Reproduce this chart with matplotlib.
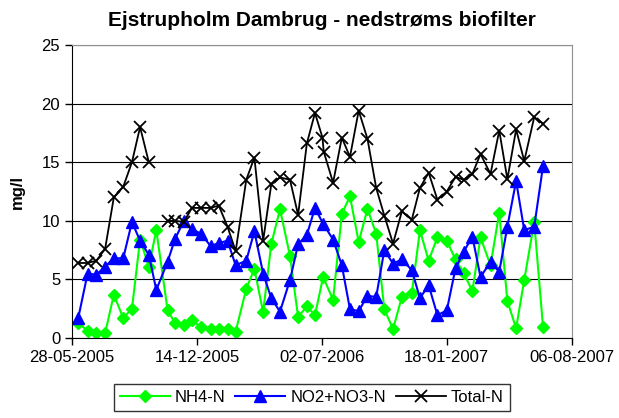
import numpy as np
import pandas as pd
import matplotlib
matplotlib.use("Agg")
import matplotlib.pyplot as plt
import matplotlib.dates as mdates

plt.rcParams['font.family'] = ['Liberation Sans', 'DejaVu Sans']

# sampling dates shared by NH4-N and NO2+NO3-N
dates = ["2005-06-07", "2005-06-22", "2005-07-06", "2005-07-20", "2005-08-03", "2005-08-18",
         "2005-09-01", "2005-09-14", "2005-09-28", "2005-10-10", "2005-10-28", "2005-11-09",
         "2005-11-23", "2005-12-06", "2005-12-20", "2006-01-05", "2006-01-18", "2006-02-01",
         "2006-02-14", "2006-03-03", "2006-03-16", "2006-03-30", "2006-04-12", "2006-04-26",
         "2006-05-12", "2006-05-25", "2006-06-08", "2006-06-21", "2006-07-04", "2006-07-20",
         "2006-08-03", "2006-08-16", "2006-08-30", "2006-09-13", "2006-09-27", "2006-10-10",
         "2006-10-24", "2006-11-07", "2006-11-23", "2006-12-06", "2006-12-20", "2007-01-03",
         "2007-01-18", "2007-02-01", "2007-02-14", "2007-02-28", "2007-03-13", "2007-03-29",
         "2007-04-12", "2007-04-25", "2007-05-09", "2007-05-22", "2007-06-07", "2007-06-21"]

nh4 = [1.3, 0.6, 0.45, 0.4, 3.7, 1.7, 2.5, 8.4, 6.1, 9.2, 2.4, 1.25, 1.1, 1.5, 0.95, 0.75,
       0.75, 0.8, 0.55, 4.2, 5.9, 2.2, 8.0, 11.0, 7.0, 1.8, 2.7, 1.95, 5.2, 3.25, 10.6, 12.1,
       8.2, 11.0, 8.9, 2.45, 0.75, 3.5, 3.8, 9.2, 6.6, 8.6, 8.3, 6.7, 5.55, 4.0, 8.6, 6.2,
       10.7, 3.15, 0.83, 4.95, 9.9, 0.97]

no2no3 = [1.7, 5.5, 5.4, 6.1, 6.8, 6.8, 9.9, 8.3, 7.1, 4.1, 6.5, 8.45, 10.0, 9.3, 8.9, 7.85,
          8.1, 8.3, 6.2, 6.6, 9.1, 5.5, 3.4, 2.25, 4.95, 8.0, 8.8, 11.1, 9.75, 8.4, 6.2, 2.45,
          2.3, 3.6, 3.5, 7.5, 6.35, 6.7, 5.8, 3.4, 4.5, 1.95, 2.35, 5.95, 7.35, 8.65, 5.2, 6.5,
          5.65, 9.5, 13.4, 9.2, 9.5, 14.65]

# Total-N has its own dates (missing one, one extra in July 2006)
total_dates = ["2005-06-07", "2005-06-22", "2005-07-06", "2005-07-20", "2005-08-03", "2005-08-18",
               "2005-09-01", "2005-09-14", "2005-09-28", "2005-10-10", "2005-10-28", "2005-11-09",
               "2005-11-23", "2005-12-06", "2005-12-20", "2006-01-05", "2006-01-18", "2006-02-01",
               "2006-02-14", "2006-03-03", "2006-03-16", "2006-03-30", "2006-04-12", "2006-04-26",
               "2006-05-12", "2006-05-25", "2006-06-08", "2006-06-21", "2006-07-03", "2006-07-05",
               "2006-07-20", "2006-08-03", "2006-08-16", "2006-08-30", "2006-09-13", "2006-09-27",
               "2006-10-10", "2006-10-24", "2006-11-07", "2006-11-23", "2006-12-06", "2006-12-20",
               "2007-01-03", "2007-01-18", "2007-02-01", "2007-02-14", "2007-02-28", "2007-03-13",
               "2007-03-29", "2007-04-12", "2007-04-25", "2007-05-09", "2007-05-22", "2007-06-07",
               "2007-06-21"]

total_n = [6.4, 6.4, 6.6, 7.6, 12.0, 12.9, 15.0, 18.0, 15.0, np.nan, 10.0, 10.0, 9.9, 11.1,
           11.1, 11.1, 11.3, 9.5, 7.4, 13.5, 15.4, 8.3, 13.1, 13.7, 13.5, 10.5, 16.6, 19.2,
           17.1, 15.9, 13.25, 17.1, 15.45, 19.4, 17.0, 12.8, 10.45, 8.05, 10.8, 10.1, 12.8,
           14.1, 11.8, 12.5, 13.75, 13.5, 14.0, 15.7, 14.0, 17.7, 13.55, 17.8, 15.1, 18.85, 18.3]

x_ticks = ["2005-05-28", "2005-12-14", "2006-07-02", "2007-01-18", "2007-08-06"]

fig = plt.figure(figsize=(6.19, 4.18), dpi=100)
ax = fig.add_axes([0.1163, 0.1914, 0.8073, 0.7009])

d = pd.to_datetime(dates)
td = pd.to_datetime(total_dates)
ticks = pd.to_datetime(x_ticks)

ax.plot(d, nh4, color="#00FF00", lw=1.5, marker="D", ms=6, label="NH4-N")
ax.plot(d, no2no3, color="#0000FF", lw=1.5, marker="^", ms=8, label="NO2+NO3-N")
ax.plot(td, total_n, color="black", lw=1.3, marker="x", ms=8, mew=1.3, label="Total-N")

ax.set_xlim(ticks[0], ticks[-1])
ax.set_ylim(0, 25)
ax.set_yticks(range(0, 26, 5))
ax.set_xticks(ticks)
ax.xaxis.set_major_formatter(mdates.DateFormatter("%d-%m-%Y"))
ax.yaxis.grid(True, color="black", lw=0.8)
ax.set_axisbelow(True)

for s in ["top", "right"]:
    ax.spines[s].set_color("#909090")
for s in ["left", "bottom"]:
    ax.spines[s].set_color("black")
ax.tick_params(axis="both", direction="out", length=5, labelsize=12, width=1)

ax.set_ylabel("mg/l", fontsize=12, fontweight="bold", labelpad=12)
ax.set_title("Ejstrupholm Dambrug - nedstrøms biofilter", fontsize=15, fontweight="bold", pad=14)

leg = ax.legend(loc="upper center", bbox_to_anchor=(0.48, -0.13), ncol=3, fontsize=12,
                frameon=True, fancybox=False, edgecolor="black", handlelength=3,
                columnspacing=0.6, handletextpad=0.3, borderpad=0.35)
leg.get_frame().set_linewidth(1)

fig.savefig("out.png", dpi=100)
